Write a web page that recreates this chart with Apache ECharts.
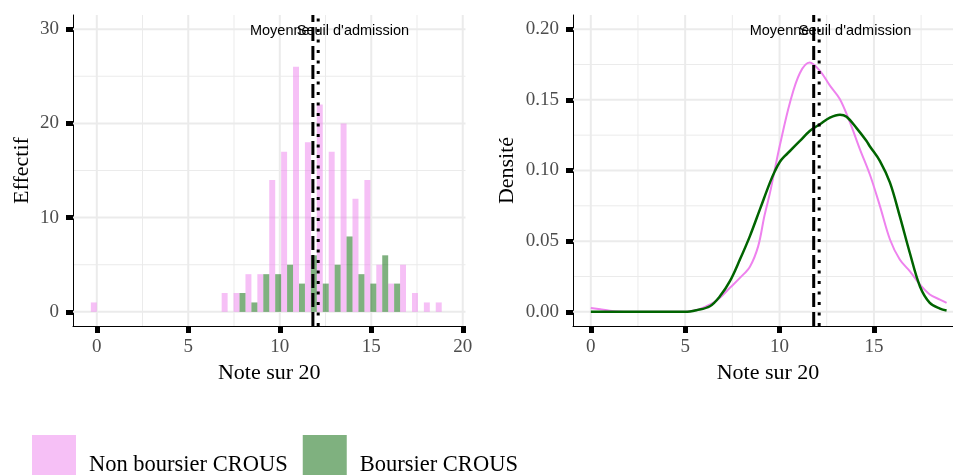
<!DOCTYPE html>
<html><head><meta charset="utf-8">
<script src="https://cdn.jsdelivr.net/npm/echarts@6/dist/echarts.min.js"></script>
<style>html,body{margin:0;padding:0;background:#fff}#c{width:953px;height:475px}</style>
</head><body><div id="c"></div>
<script>
// ---------- data ----------
const binCenters = [0,0.65,1.3,1.95,2.6,3.25,3.9,4.55,5.2,5.85,6.5,7.15,7.8,8.45,9.1,9.75,10.4,11.05,11.7,12.35,13,13.65,14.3,14.95,15.6,16.25,16.9,17.55,18.2,18.85];
const binHalfWidth = 0.325;
const nonBoursierCounts = [1,0,0,0,0,0,0,0,0,0,0,2,2,4,4,14,17,26,18,22,17,20,12,14,5,3,5,2,1,1];
const boursierCounts    = [0,0,0,0,0,0,0,0,0,0,0,0,2,1,4,4,5,3,6,3,5,8,4,3,6,3,0,0,0,0];

const nonBoursierDensity = [[0,0.0028],[0.5,0.0018],[1.0,0.0008],[1.5,0.0002],[2.0,0],[3,0],[4,0],[5,0.0001],[5.6,0.0013],[6.1,0.0038],[6.5,0.0065],[6.84,0.0099],[7.37,0.017],[7.9,0.024],[8.43,0.032],[8.87,0.0465],[9.2,0.068],[9.49,0.084],[9.75,0.1008],[10.02,0.118],[10.55,0.148],[11.08,0.169],[11.6,0.1764],[12.14,0.1705],[12.67,0.160],[13.2,0.1504],[13.73,0.134],[14.26,0.115],[14.79,0.097],[15.32,0.0748],[15.85,0.0512],[16.37,0.037],[16.9,0.0288],[17.44,0.0193],[17.96,0.0123],[18.5,0.0087],[18.85,0.0064]];
const boursierDensity = [[0,0],[1,0],[2,0],[3,0],[4,0],[5,0],[5.6,0.0012],[6.31,0.004],[6.84,0.011],[7.37,0.0217],[7.9,0.037],[8.43,0.0536],[8.96,0.0725],[9.49,0.0914],[9.75,0.0995],[10.02,0.1062],[10.3,0.1105],[10.55,0.1138],[11.08,0.1209],[11.6,0.128],[12.14,0.1327],[12.67,0.1374],[13.2,0.1395],[13.55,0.138],[14.08,0.130],[14.6,0.121],[14.79,0.117],[15.32,0.1067],[15.85,0.0914],[16.37,0.0677],[16.9,0.0418],[17.44,0.018],[17.96,0.0064],[18.5,0.0023],[18.85,0.001]];

const meanNote = 11.81;
const seuilNote = 12.1;
const labelMoyenne = 'Moyenne';
const labelSeuil = "Seuil d'admission";
const labelMoyenneX = 10;
const labelSeuilX = 14;
const histLabelY = 30;
const densLabelY = 0.2;

const histXTicks = [0,5,10,15,20];
const histXMinor = [2.5,7.5,12.5,17.5];
const histYTicks = [0,10,20,30];
const histYMinor = [5,15,25];
const densXTicks = [0,5,10,15];
const densXMinor = [2.5,7.5,12.5,17.5];
const densYTicks = [0,0.05,0.1,0.15,0.2];
const densYMinor = [0.025,0.075,0.125,0.175];

const seriesNames = ['Non boursier CROUS','Boursier CROUS'];

// ---------- styles ----------
const pinkFill = 'rgba(238,130,238,0.5)';
const greenFill = 'rgba(0,100,0,0.5)';
const serif = 'Liberation Serif';
const sans = 'Liberation Sans';
const gridColor = '#ebebeb';

const H = {xmin:-1.3, xmax:20.15, ymin:-1.5, ymax:31.5};
const D = {xmin:-0.9425, xmax:19.19, ymin:-0.01, ymax:0.21};

function vLines(xi, values, ext, width, color, dash, z) {
  return {type:'custom', xAxisIndex:xi, yAxisIndex:xi, silent:true, z:z,
    data: values.map(v => [v, ext.ymin]), encode:{x:0, y:1},
    renderItem: (p, api) => {
      const v = api.value(0);
      const a = api.coord([v, ext.ymin]), b = api.coord([v, ext.ymax]);
      return {type:'line', shape:{x1:a[0], y1:a[1], x2:b[0], y2:b[1]},
        style:{stroke:color, lineWidth:width, lineDash:dash || null, lineCap:'butt'}};
    }};
}
function hLines(xi, values, ext, width, color, z) {
  return {type:'custom', xAxisIndex:xi, yAxisIndex:xi, silent:true, z:z,
    data: values.map(v => [ext.xmin, v]), encode:{x:0, y:1},
    renderItem: (p, api) => {
      const v = api.value(1);
      const a = api.coord([ext.xmin, v]), b = api.coord([ext.xmax, v]);
      return {type:'line', shape:{x1:a[0], y1:a[1], x2:b[0], y2:b[1]},
        style:{stroke:color, lineWidth:width}};
    }};
}
function bars(name, counts, side, color) {
  return {type:'custom', name:name, xAxisIndex:0, yAxisIndex:0, z:3,
    itemStyle:{color:color},
    data: binCenters.map((c, i) => [c, counts[i]]), encode:{x:0, y:1},
    renderItem: (p, api) => {
      const c = api.value(0), n = api.value(1);
      const x0 = side < 0 ? c - binHalfWidth : c;
      const x1 = side < 0 ? c : c + binHalfWidth;
      const a = api.coord([x0, 0]), b = api.coord([x1, n]);
      return {type:'rect', shape:{x:a[0], y:b[1], width:b[0]-a[0], height:a[1]-b[1]},
        style:{fill:color}};
    }};
}
function texts(xi, items) {
  return {type:'custom', xAxisIndex:xi, yAxisIndex:xi, silent:true, z:6,
    data: items.map(t => [t[0], t[1], t[2]]), encode:{x:0, y:1},
    renderItem: (p, api) => {
      const it = items[p.dataIndex];
      const a = api.coord([it[0], it[1]]);
      return {type:'text', x:a[0], y:a[1] + 2,
        style:{text:it[2], fill:'#000', font:'14.5px ' + sans, align:'center', verticalAlign:'middle'}};
    }};
}

function xAxisDef(gi, ext, ticks, namePad) {
  return {type:'value', gridIndex:gi, min:ext.xmin, max:ext.xmax,
    axisLine:{show:true, onZero:false, lineStyle:{color:'#000', width:1}},
    axisTick:{show:true, customValues:ticks, length:7, lineStyle:{color:'#000', width:5}},
    axisLabel:{customValues:ticks, margin:12, color:'#4d4d4d', fontFamily:serif, fontSize:19},
    splitLine:{show:false},
    name:'Note sur 20', nameLocation:'middle', nameGap:31,
    nameTextStyle:{fontFamily:serif, fontSize:22, color:'#000', padding:namePad}};
}
function yAxisDef(gi, ext, ticks, name, gap, fmt) {
  return {type:'value', gridIndex:gi, min:ext.ymin, max:ext.ymax,
    axisLine:{show:true, onZero:false, lineStyle:{color:'#000', width:1}},
    axisTick:{show:true, customValues:ticks, length:7, lineStyle:{color:'#000', width:5}},
    axisLabel:{customValues:ticks, margin:14, color:'#4d4d4d', fontFamily:serif, fontSize:19, formatter:fmt},
    splitLine:{show:false},
    name:name, nameLocation:'middle', nameGap:gap, nameRotate:90,
    nameTextStyle:{fontFamily:serif, fontSize:22, color:'#000'}};
}

const chart = echarts.init(document.getElementById('c'), null, {renderer:'canvas'});
chart.setOption({
  animation:false,
  backgroundColor:'#fff',
  grid:[
    {left:73, top:15, width:392.5, height:311},
    {left:573, top:15, width:380, height:311}
  ],
  xAxis:[xAxisDef(0, H, histXTicks, [0,0,0,0]), xAxisDef(1, D, densXTicks, [0,0,0,10])],
  yAxis:[
    yAxisDef(0, H, histYTicks, 'Effectif', 40, v => String(v)),
    yAxisDef(1, D, densYTicks, 'Densité', 55, v => v.toFixed(2))
  ],
  legend:{
    left:32, top:435, padding:0, orient:'horizontal', icon:'rect', itemWidth:44, itemHeight:60, itemGap:15,
    textStyle:{fontFamily:serif, fontSize:22.5, color:'#000', padding:[0,0,0,8]},
    data:[
      {name:seriesNames[0], icon:'rect', itemStyle:{color:'#f6c0f6'}},
      {name:seriesNames[1], icon:'rect', itemStyle:{color:'#7fb17f'}}
    ],
    selectedMode:false
  },
  series:[
    vLines(0, histXMinor, H, 1, gridColor, null, 0),
    hLines(0, histYMinor, H, 1, gridColor, 0),
    vLines(0, histXTicks, H, 2, gridColor, null, 1),
    hLines(0, histYTicks, H, 2, gridColor, 1),
    vLines(1, densXMinor, D, 1, gridColor, null, 0),
    hLines(1, densYMinor, D, 1, gridColor, 0),
    vLines(1, densXTicks, D, 2, gridColor, null, 1),
    hLines(1, densYTicks, D, 2, gridColor, 1),
    bars(seriesNames[0], nonBoursierCounts, -1, pinkFill),
    bars(seriesNames[1], boursierCounts, 1, greenFill),
    {type:'line', name:'Densité non boursier', xAxisIndex:1, yAxisIndex:1, z:4,
     data:nonBoursierDensity, showSymbol:false, smooth:0.35,
     lineStyle:{color:'#ee82ee', width:2}, itemStyle:{color:'#ee82ee'}},
    {type:'line', name:'Densité boursier', xAxisIndex:1, yAxisIndex:1, z:4,
     data:boursierDensity, showSymbol:false, smooth:0.35,
     lineStyle:{color:'#006400', width:2.5}, itemStyle:{color:'#006400'}},
    vLines(0, [meanNote], H, 3, '#000', [14,5], 5),
    vLines(0, [seuilNote], H, 3, '#000', [3,7.5], 5),
    vLines(1, [meanNote], D, 3, '#000', [14,5], 5),
    vLines(1, [seuilNote], D, 3, '#000', [3,7.5], 5),
    texts(0, [[labelMoyenneX, histLabelY, labelMoyenne],[labelSeuilX, histLabelY, labelSeuil]]),
    texts(1, [[labelMoyenneX, densLabelY, labelMoyenne],[labelSeuilX, densLabelY, labelSeuil]])
  ]
});
</script></body></html>
